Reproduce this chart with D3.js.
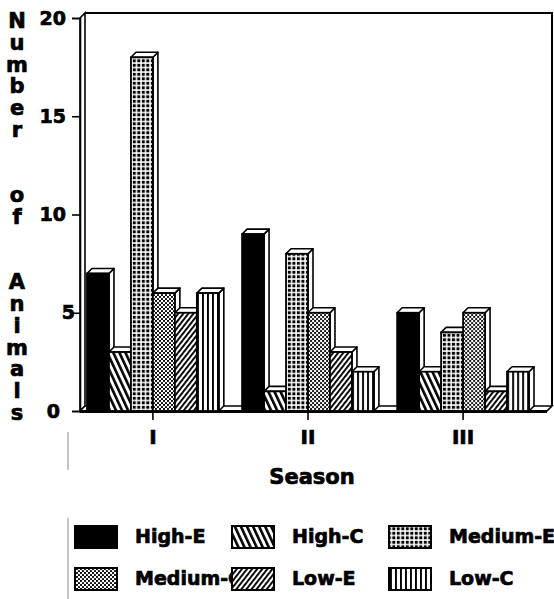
<!DOCTYPE html>
<html>
<head>
<meta charset="utf-8">
<script src="https://cdn.jsdelivr.net/npm/d3@7/dist/d3.min.js"></script>
<style>
  html, body { margin: 0; padding: 0; background: #fff; }
  svg { display: block; }
  text { font-family: "DejaVu Sans", "Liberation Sans", Arial, sans-serif; font-weight: bold; fill: #000; stroke: #000; stroke-width: 0.7px; }
</style>
</head>
<body>
<svg id="chart" width="554" height="599"></svg>
<script>
// Seasons on the x axis and the six treatment groups
const seasons = ["I", "II", "III"];
const series = ["High-E", "High-C", "Medium-E", "Medium-C", "Low-E", "Low-C"];

// Number of animals per group, one value per season
const highE   = [7, 9, 5];
const highC   = [3, 1, 2];
const mediumE = [18, 8, 4];
const mediumC = [6, 5, 5];
const lowE    = [5, 3, 1];
const lowC    = [6, 2, 2];

const yTicks = [0, 5, 10, 15, 20];
const yTitle = "Number  of  Animals";
const xTitle = "Season";

const valuesBySeries = [highE, highC, mediumE, mediumC, lowE, lowC];
const rows = seasons.map((s, si) => ({
  season: s,
  bars: series.map((name, k) => ({ name, value: valuesBySeries[k][si] }))
}));

const svg = d3.select("#chart");
const defs = svg.append("defs");

// ---- fill patterns ----
function stripePattern(id, size, barW, angle) {
  const p = defs.append("pattern").attr("id", id)
    .attr("patternUnits", "userSpaceOnUse")
    .attr("width", size).attr("height", size)
    .attr("patternTransform", `rotate(${angle})`);
  p.append("rect").attr("width", size).attr("height", size).attr("fill", "#fff");
  p.append("rect").attr("width", barW).attr("height", size).attr("fill", "#000");
}
stripePattern("pat-highC", 5.5, 2.6, -25);
stripePattern("pat-lowE", 4, 1.9, 38);
stripePattern("pat-lowC", 5, 1.9, 0);

// grid of square dots
(() => {
  const s = 4.5;
  const p = defs.append("pattern").attr("id", "pat-mediumE")
    .attr("patternUnits", "userSpaceOnUse").attr("width", s).attr("height", s);
  p.append("rect").attr("width", s).attr("height", s).attr("fill", "#fff");
  p.append("rect").attr("x", 0.8).attr("y", 0.8).attr("width", 3).attr("height", 3).attr("fill", "#000");
})();
// diagonal stipple
(() => {
  const s = 4;
  const p = defs.append("pattern").attr("id", "pat-mediumC")
    .attr("patternUnits", "userSpaceOnUse").attr("width", s).attr("height", s);
  p.append("rect").attr("width", s).attr("height", s).attr("fill", "#fff");
  p.append("circle").attr("cx", 1).attr("cy", 1).attr("r", 1.1).attr("fill", "#000");
  p.append("circle").attr("cx", 3).attr("cy", 3).attr("r", 1.1).attr("fill", "#000");
})();

const fillFor = {
  "High-E": "#000",
  "High-C": "url(#pat-highC)",
  "Medium-E": "url(#pat-mediumE)",
  "Medium-C": "url(#pat-mediumC)",
  "Low-E": "url(#pat-lowE)",
  "Low-C": "url(#pat-lowC)"
};

// ---- scales ----
const y = d3.scaleLinear().domain([0, 20]).range([411, 18]);
const x0 = d3.scaleBand().domain(seasons).range([87, 529]).paddingInner(0.15).paddingOuter(0);
const x1 = d3.scaleBand().domain(series).range([0, x0.bandwidth()]).padding(0);

const dx = 5, dy = 5;               // depth of the 3-D extrusion
const axisX = 80;
const rightX = 552;
const y0 = y(0);

const g = svg.append("g");

// faint margin rules on the left
g.append("g").attr("stroke", "#8a8a8a").attr("stroke-width", 1)
  .selectAll("line").data([[432, 470], [518, 599]]).join("line")
  .attr("x1", 68).attr("x2", 68).attr("y1", d => d[0]).attr("y2", d => d[1]);

// ---- back wall frame, left wall and floor ----
g.append("path")
  .attr("d", `M${axisX + dx},${y(20) - dy}H${rightX}V${y0 - dy}`)
  .attr("fill", "none").attr("stroke", "#000").attr("stroke-width", 2);
g.append("path")
  .attr("d", `M${axisX},${y0}V${y(20)}L${axisX + dx},${y(20) - dy}V${y0 - dy}Z`)
  .attr("fill", "#fff").attr("stroke", "#000").attr("stroke-width", 1.6);
g.append("path")
  .attr("d", `M${axisX},${y0}L${axisX + dx},${y0 - dy}H${rightX}L${rightX - dx},${y0}Z`)
  .attr("fill", "#fff").attr("stroke", "#000").attr("stroke-width", 1.6);
g.append("line")
  .attr("x1", axisX).attr("x2", rightX - dx).attr("y1", y0 + 0.5).attr("y2", y0 + 0.5)
  .attr("stroke", "#000").attr("stroke-width", 3);

// ---- bars (drawn left to right so each covers its neighbour's side) ----
const groups = g.selectAll("g.season").data(rows).join("g")
  .attr("class", "season")
  .attr("transform", d => `translate(${x0(d.season)},0)`);

groups.each(function (d) {
  const sg = d3.select(this);
  d.bars.forEach(b => {
    const bx = x1(b.name), w = x1.bandwidth(), top = y(b.value);
    const bg = sg.append("g").attr("class", "bar");
    bg.append("path")
      .attr("d", `M${bx + w},${top}L${bx + w + dx},${top - dy}V${y0 - dy}L${bx + w},${y0}Z`)
      .attr("fill", "#fff").attr("stroke", "#000").attr("stroke-width", 1.6)
      .attr("stroke-linejoin", "round");
    bg.append("path")
      .attr("d", `M${bx},${top}L${bx + dx},${top - dy}H${bx + w + dx}L${bx + w},${top}Z`)
      .attr("fill", "#fff").attr("stroke", "#000").attr("stroke-width", 1.6)
      .attr("stroke-linejoin", "round");
    bg.append("rect")
      .attr("x", bx).attr("y", top).attr("width", w).attr("height", y0 - top)
      .attr("fill", fillFor[b.name]).attr("stroke", "#000").attr("stroke-width", 1.8);
  });
});

// ---- axes ----
const yAxis = d3.axisLeft(y).tickValues(yTicks).tickSize(8).tickPadding(6).tickFormat(d3.format("d"));
const ya = g.append("g").attr("transform", `translate(${axisX},0)`).call(yAxis);
ya.select(".domain").attr("stroke-width", 1.6);
ya.selectAll(".tick line").attr("stroke-width", 1.6);
ya.selectAll(".tick text")
  .style("font-size", "19px").style("font-family", "DejaVu Sans").style("font-weight", "bold")
  .attr("dx", d => d === 5 ? 9 : d === 0 ? -6 : 0);

const xAxis = d3.axisBottom(x0).tickSize(9).tickPadding(10);
const xa = g.append("g").attr("transform", `translate(0,${y0})`).call(xAxis);
xa.select(".domain").remove();
xa.selectAll(".tick line").attr("stroke-width", 1.6);
xa.selectAll(".tick text")
  .style("font-size", "20px").style("font-family", "DejaVu Sans").style("font-weight", "bold");

// ---- axis titles ----
g.append("text")
  .attr("x", (x0.range()[0] + x0.range()[1]) / 2 + 4).attr("y", 478)
  .attr("text-anchor", "middle").attr("dominant-baseline", "middle")
  .style("font-size", "21px")
  .text(xTitle);

// vertical title, one letter per line
const letters = yTitle.split("");
const letterY = d3.scaleLinear().domain([0, letters.length - 1]).range([22, 414]);
g.append("text")
  .attr("x", 17)
  .attr("text-anchor", "middle")
  .style("font-size", "21px")
  .selectAll("tspan").data(letters).join("tspan")
  .attr("x", 17).attr("y", (c, i) => letterY(i)).attr("dominant-baseline", "middle")
  .text(c => c === " " ? "\u00a0" : c);

// ---- legend ----
const legend = g.append("g").attr("class", "legend");
const colX = d3.scaleLinear().domain([0, 1]).range([75, 232]);
const rowY = d3.scaleLinear().domain([0, 1]).range([537, 579]);
const items = series.map((name, i) => ({ name, col: i % 3, row: Math.floor(i / 3) }));

legend.selectAll("text").data(items).join("text")
  .attr("x", d => colX(d.col) + 60).attr("y", d => rowY(d.row))
  .attr("dominant-baseline", "middle")
  .style("font-size", "19px")
  .text(d => d.name);

legend.selectAll("rect.swatch").data(items).join("rect")
  .attr("class", "swatch")
  .attr("x", d => colX(d.col)).attr("y", d => rowY(d.row) - 11)
  .attr("width", 42).attr("height", 22)
  .attr("fill", d => fillFor[d.name])
  .attr("stroke", "#000").attr("stroke-width", 2);
</script>
</body>
</html>
